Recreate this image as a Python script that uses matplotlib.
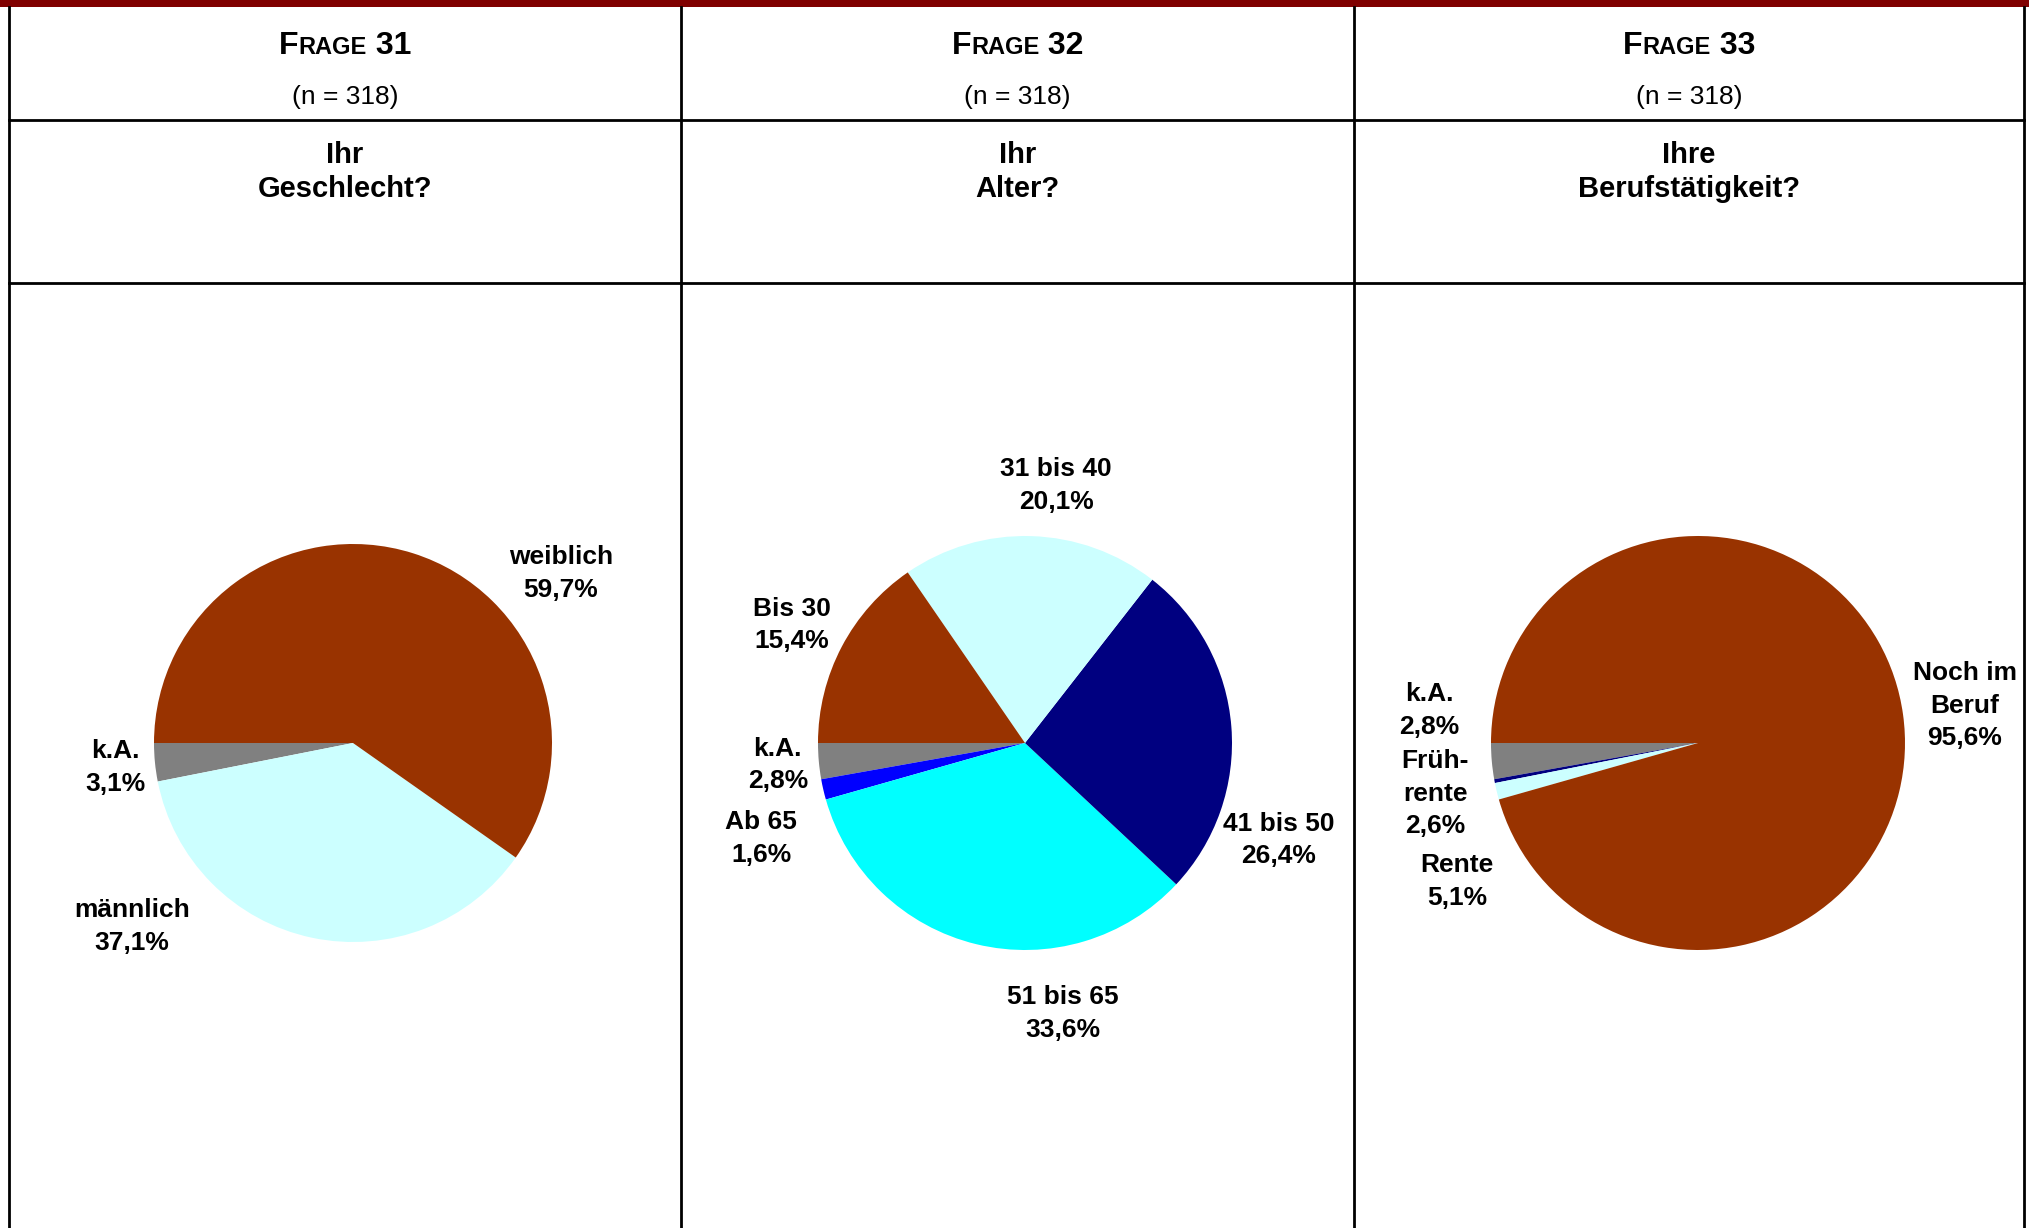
import matplotlib
matplotlib.use("Agg")
import matplotlib.pyplot as plt
from matplotlib.offsetbox import TextArea, HPacker, AnnotationBbox

W, H = 2029, 1228

# --- data ---
questions = ["31", "32", "33"]
n_values = [318, 318, 318]
titles = ["Ihr\nGeschlecht?", "Ihr\nAlter?", "Ihre\nBerufstätigkeit?"]

q31_labels = ["k.A.", "männlich", "weiblich"]
q31_values = [3.1, 37.1, 59.7]
q31_texts = ["3,1%", "37,1%", "59,7%"]

q32_labels = ["k.A.", "Ab 65", "51 bis 65", "41 bis 50", "31 bis 40", "Bis 30"]
q32_values = [2.8, 1.6, 33.6, 26.4, 20.1, 15.4]
q32_texts = ["2,8%", "1,6%", "33,6%", "26,4%", "20,1%", "15,4%"]

# slice sizes as drawn; printed percentages as in the source
q33_labels = ["k.A.", "Früh-\nrente", "Rente", "Noch im\nBeruf"]
q33_values = [2.8, 0.3, 1.3, 95.6]
q33_texts = ["2,8%", "2,6%", "5,1%", "95,6%"]

BROWN = "#993300"
LCYAN = "#CCFFFF"
GREY = "#808080"
NAVY = "#000080"
BLUE = "#0000FF"
CYAN = "#00FFFF"

q31_colors = [GREY, LCYAN, BROWN]
q32_colors = [GREY, BLUE, CYAN, NAVY, LCYAN, BROWN]
q33_colors = [GREY, NAVY, LCYAN, BROWN]

# label positions relative to pie radius (layout)
q31_pos = [(-1.195, -0.123), (-1.11, -0.922), (1.045, 0.851)]
q32_pos = [(-1.194, -0.106), (-1.275, -0.4625), (0.181, -1.306),
           (1.225, -0.469), (0.15, 1.244), (-1.125, 0.569)]
q33_pos = [(-1.30, 0.156), (-1.269, -0.244), (-1.1625, -0.669), (1.2875, 0.181)]

fig = plt.figure(figsize=(W / 100, H / 100), dpi=100)
bg = fig.add_axes([0, 0, 1, 1])
bg.set_xlim(0, W)
bg.set_ylim(H, 0)
bg.axis("off")

col_x = [9, 681, 1354, 2024]
line_y = [120, 283]

# table grid
bg.fill_between([0, W], 0, 7, color="#800000", lw=0)
for x in col_x:
    bg.plot([x, x], [7, H], color="black", lw=2)
for y in line_y:
    bg.plot([col_x[0], col_x[-1]], [y, y], color="black", lw=2)

font = "Liberation Sans"
for i in range(3):
    cx = (col_x[i] + col_x[i + 1]) / 2
    parts = [TextArea("F", textprops=dict(fontsize=23, fontweight="bold", family=font)),
             TextArea("RAGE", textprops=dict(fontsize=17, fontweight="bold", family=font)),
             TextArea(" " + questions[i], textprops=dict(fontsize=23, fontweight="bold", family=font))]
    box = HPacker(children=parts, align="baseline", pad=0, sep=0)
    ab = AnnotationBbox(box, (cx, 46), xycoords="data", frameon=False,
                        box_alignment=(0.5, 0.5))
    bg.add_artist(ab)
    bg.text(cx, 97, f"(n = {n_values[i]})", ha="center", va="center",
            fontsize=19, family=font)
    bg.text(cx, 172, titles[i], ha="center", va="center", fontsize=21,
            fontweight="bold", family=font, linespacing=1.3)

pies = [
    (q31_labels, q31_values, q31_texts, q31_colors, q31_pos, (353, 743), 199),
    (q32_labels, q32_values, q32_texts, q32_colors, q32_pos, (1025, 743), 207),
    (q33_labels, q33_values, q33_texts, q33_colors, q33_pos, (1698, 743), 207),
]

for labels, values, texts, colors, pos, (cx, cy), r in pies:
    ax = fig.add_axes([(cx - r) / W, (H - cy - r) / H, 2 * r / W, 2 * r / H])
    ax.pie(values, colors=colors, startangle=180, counterclock=True,
           radius=1, wedgeprops=dict(linewidth=0))
    ax.set_xlim(-1, 1)
    ax.set_ylim(-1, 1)
    ax.axis("off")
    for lab, txt, (px, py) in zip(labels, texts, pos):
        ax.text(px, py, f"{lab}\n{txt}", ha="center", va="center",
                fontsize=19, fontweight="bold", family=font,
                linespacing=1.45, clip_on=False)

fig.savefig("out.png", dpi=100)
